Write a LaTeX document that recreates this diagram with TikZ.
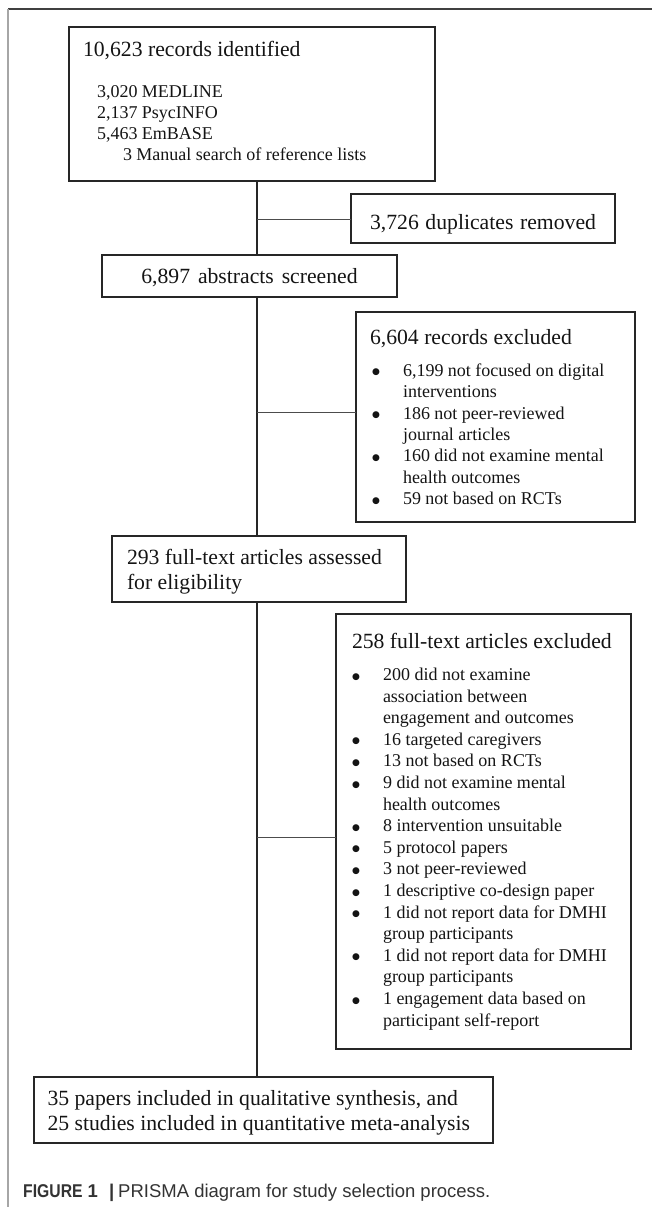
\documentclass[tikz,border=0pt]{standalone}
\usepackage{fontspec}
\setmainfont{Liberation Serif}
\newfontfamily\capsans{Liberation Sans}
\newfontfamily\bulletfont{DejaVu Sans}
\newcommand{\boxtitlefont}{\fontsize{21.7pt}{25pt}\selectfont}
\newcommand{\boxitemfont}{\fontsize{18pt}{21.4pt}\selectfont}
\newcommand{\natsp}{\spaceskip=0pt\xspaceskip=0pt\relax}
\newcommand{\bulletmark}{{\bulletfont\fontsize{9pt}{9pt}\selectfont\raisebox{1.5pt}{●}}}
\tikzset{
  box/.style={draw=black!85, line width=1.7pt, anchor=north west, inner xsep=14pt,
    inner ysep=0pt, outer sep=0pt, align=left, text=black!92},
  cbox/.style={box, align=center, inner xsep=0pt, font=\boxtitlefont},
  trunk/.style={line width=2.6pt, draw=black!85},
  branch/.style={line width=0.9pt, draw=black!70},
  frameline/.style={line width=2pt},
}
\begin{document}
\begin{tikzpicture}[x=1pt,y=-1pt]
\useasboundingbox (0,0) rectangle (652,1207);
% outer figure frame
\draw[frameline, draw=black!75] (8,9) -- (652,9);
\draw[frameline, draw=black!35] (8,9) -- (8,1207);

% boxes
\node[box, minimum width=366pt, minimum height=154pt, text width=338pt] (b1) at (69,27)
 {\natsp{\boxtitlefont 10,623 records identified\par}\vspace{20pt}%
  {\fontsize{18pt}{21pt}\selectfont\hspace*{14pt}3,020 MEDLINE\\
   \hspace*{14pt}2,137 PsycINFO\\
   \hspace*{14pt}5,463 EmBASE\\
   \hspace*{40pt}3 Manual search of reference lists\par}\vspace{6.8pt}};

\node[cbox, minimum width=264pt, text width=264pt, text height=35pt, text depth=14pt] (dup) at (351,194)
 {\natsp 3,726 duplicates removed};

\node[cbox, minimum width=295pt, text width=295pt, text height=28pt, text depth=14pt] (b2) at (102,255)
 {\natsp 6,897 abstracts screened};

\node[box, minimum width=279pt, minimum height=210pt, text width=251pt] (ex1) at (356,312)
 {\natsp{\boxtitlefont 6,604 records excluded\par}\vspace{10.6pt}%
  {\boxitemfont
   \hspace*{2pt}\makebox[31pt][l]{\bulletmark}6,199 not focused on digital\\
   \hspace*{33pt}interventions\\
   \hspace*{2pt}\makebox[31pt][l]{\bulletmark}186 not peer-reviewed\\
   \hspace*{33pt}journal articles\\
   \hspace*{2pt}\makebox[31pt][l]{\bulletmark}160 did not examine mental\\
   \hspace*{33pt}health outcomes\\
   \hspace*{2pt}\makebox[31pt][l]{\bulletmark}59 not based on RCTs\par}};

\node[box, minimum width=294pt, minimum height=66pt, text width=264pt, inner xsep=15pt] (b3) at (112,536)
 {\natsp{\boxtitlefont 293 full-text articles assessed\\ for eligibility\par}\vspace{-5pt}};

\node[box, minimum width=295pt, minimum height=435pt, text width=263pt, inner xsep=16pt] (ex2) at (336,614)
 {\natsp{\boxtitlefont 258 full-text articles excluded\par}\vspace{10.6pt}%
  {\fontsize{18pt}{21.6pt}\selectfont
   \makebox[31pt][l]{\bulletmark}200 did not examine\\
   \hspace*{31pt}association between\\
   \hspace*{31pt}engagement and outcomes\\
   \makebox[31pt][l]{\bulletmark}16 targeted caregivers\\
   \makebox[31pt][l]{\bulletmark}13 not based on RCTs\\
   \makebox[31pt][l]{\bulletmark}9 did not examine mental\\
   \hspace*{31pt}health outcomes\\
   \makebox[31pt][l]{\bulletmark}8 intervention unsuitable\\
   \makebox[31pt][l]{\bulletmark}5 protocol papers\\
   \makebox[31pt][l]{\bulletmark}3 not peer-reviewed\\
   \makebox[31pt][l]{\bulletmark}1 descriptive co-design paper\\
   \makebox[31pt][l]{\bulletmark}1 did not report data for DMHI\\
   \hspace*{31pt}group participants\\
   \makebox[31pt][l]{\bulletmark}1 did not report data for DMHI\\
   \hspace*{31pt}group participants\\
   \makebox[31pt][l]{\bulletmark}1 engagement data based on\\
   \hspace*{31pt}participant self-report\par}};

\node[box, minimum width=459pt, minimum height=66pt, text width=432pt, inner xsep=13.5pt] (b4) at (34,1077)
 {\natsp{\boxtitlefont 35 papers included in qualitative synthesis, and\\
  25 studies included in quantitative meta-analysis\par}\vspace{-5pt}};

% caption
\node[anchor=base west, inner sep=0pt, text=black!80] (cap) at (23,1197)
 {\capsans\fontsize{18.5pt}{20pt}\selectfont{\bfseries\scalebox{0.85}[1]{FIGURE} 1\hspace{11pt}\textbar}\hspace{4pt}PRISMA diagram for study selection process.};

% trunk
\coordinate (tx) at (257,0);
\draw[trunk] (b1.south -| tx) -- (b2.north -| tx);
\draw[trunk] (b2.south -| tx) -- (b3.north -| tx);
\draw[trunk] (b3.south -| tx) -- (b4.north -| tx);

% branches
\coordinate (j1) at (257,219);
\coordinate (j2) at (257,412);
\coordinate (j3) at (257,837);
\draw[branch] (j1) -- (j1 -| dup.west);
\draw[branch] (j2) -- (j2 -| ex1.west);
\draw[branch] (j3) -- (j3 -| ex2.west);
\end{tikzpicture}
\end{document}
